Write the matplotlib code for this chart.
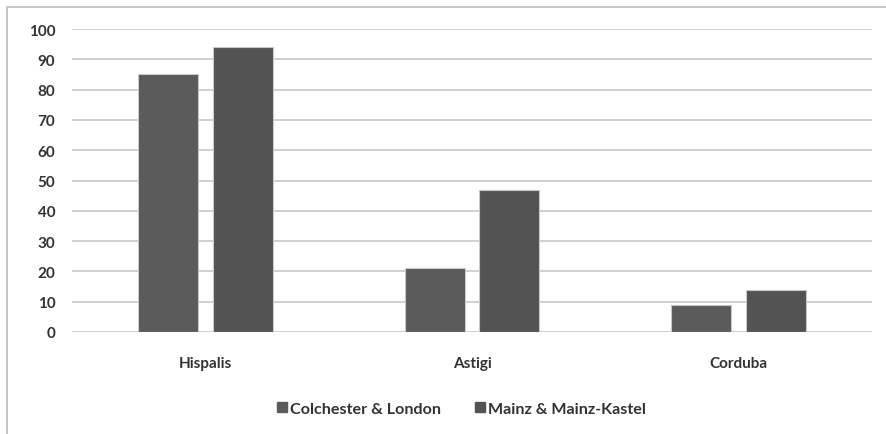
import matplotlib
matplotlib.use("Agg")
import matplotlib.pyplot as plt
import numpy as np
from matplotlib.patches import Rectangle
from matplotlib.lines import Line2D

categories = ["Hispalis", "Astigi", "Corduba"]
colchester = [85, 21, 9]
mainz = [94, 47, 14]
series_names = ["Colchester & London", "Mainz & Mainz-Kastel"]
yticks = [0, 10, 20, 30, 40, 50, 60, 70, 80, 90, 100]

plt.rcParams['font.family'] = ['Lato', 'DejaVu Sans']

W, H = 887, 435
fig = plt.figure(figsize=(W/100, H/100), dpi=100)
ax = fig.add_axes([72/W, 1-333/H, 800/W, 303/H])

x = np.arange(len(categories))
bw = 0.225
gap = 0.056
c1, c2 = "#5b5b5b", "#535353"
ax.bar(x - (bw+gap)/2, colchester, bw, color=c1, edgecolor="#c8c8c8", linewidth=0.8, zorder=3)
ax.bar(x + (bw+gap)/2, mainz, bw, color=c2, edgecolor="#c8c8c8", linewidth=0.8, zorder=3)

fs = 11
ax.set_xlim(-0.5, 2.5)
ax.set_ylim(0, 100)
ax.set_yticks(yticks)
ax.set_yticklabels([str(v) for v in yticks], fontsize=fs, color="#333333", fontweight="bold")
ax.set_xticks(x)
ax.set_xticklabels(categories, fontsize=fs, color="#333333", fontweight="bold")
ax.tick_params(axis='y', length=0, pad=12)
ax.tick_params(axis='x', length=0, pad=17)
ax.yaxis.grid(True, color="#c8c8c8", linewidth=1.2, zorder=0)
ax.set_axisbelow(True)
for s in ax.spines.values():
    s.set_visible(False)

handles = [Line2D([], [], marker='s', linestyle='none', markersize=6.5, color=c1),
           Line2D([], [], marker='s', linestyle='none', markersize=6.5, color=c2)]
fig.legend(handles, series_names, loc='center', bbox_to_anchor=(461/W, 1-410/H),
           ncol=2, frameon=False, handletextpad=0.1, columnspacing=2.0,
           handlelength=0.8, labelcolor="#333333", prop={'weight': 'bold', 'size': 11.6})

fig.patches.append(Rectangle((7/W, -0.1), 1.2, 1 - 8/H + 0.1, transform=fig.transFigure,
                             fill=False, edgecolor="#bdbdbd", linewidth=1.2))

fig.savefig("out.png", dpi=100, facecolor="white")
